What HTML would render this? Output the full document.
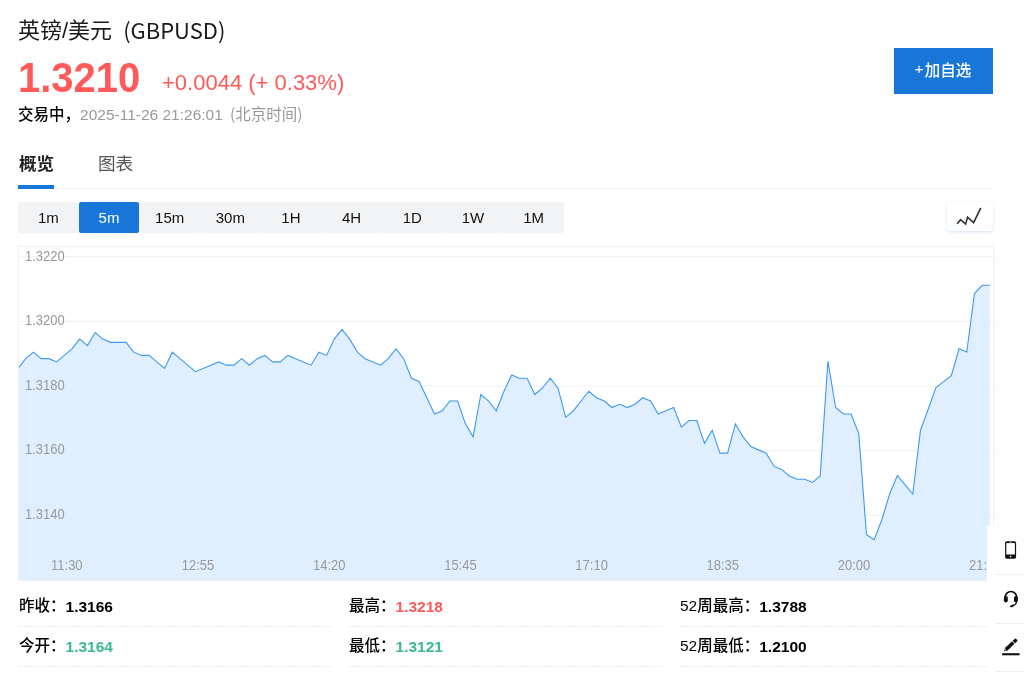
<!DOCTYPE html>
<html lang="zh-CN">
<head>
<meta charset="utf-8">
<title>英镑/美元 (GBPUSD)</title>
<style>
*{box-sizing:border-box;margin:0;padding:0}
html,body{width:1024px;height:674px;overflow:hidden;background:#fff}
body{position:relative;font-family:"Liberation Sans","Noto Sans CJK SC",sans-serif;color:#222;-webkit-font-smoothing:antialiased}
.abs{position:absolute;white-space:nowrap}
.cjk{font-family:"Noto Sans CJK SC",sans-serif}
#title{left:18px;top:12px;font-size:22px;line-height:32px;color:#1a1a1a}
#title .sym{font-family:"Noto Sans CJK SC",sans-serif;margin-left:11px;position:relative;top:1px}
#price{left:18px;top:54px;font-size:40px;line-height:46px;transform:scaleY(1.06);transform-origin:0 50%;font-weight:bold;color:#ff5959}
#chg{left:162px;top:70px;font-size:22px;line-height:26px;color:#ff5959}
#status{left:18px;top:102px;font-size:15.5px;line-height:22px;color:#000;font-weight:500}
#status .t{color:#999;font-weight:400}#status .t .cjk{margin-left:3px}
#addbtn{left:893.6px;top:48px;width:99.6px;height:46.2px;background:#1976d9;color:#fff;font-weight:500;font-size:15.5px;line-height:46px;text-align:center}
#tab1{left:19px;top:150px;font-size:17.6px;line-height:28px;font-weight:bold;color:#222}
#tab2{left:98px;top:150px;font-size:17.6px;line-height:28px;color:#555}
#tabline{left:18px;top:188px;width:975px;height:1px;background:#f4f4f4}
#tabul{left:18px;top:185.2px;width:36px;height:3.8px;background:#1976d9}
#tf{left:18px;top:202px;height:31px;display:flex}
#tf div{width:60.67px;height:31px;line-height:31px;text-align:center;font-size:15px;color:#111;background:#f2f3f5;border-radius:2px}
#tf div.on{background:#1976d9;color:#fff}
#ctype{left:947px;top:202px;width:46px;height:29px;background:#fff;border-radius:3px;box-shadow:0 1px 3px rgba(25,118,217,.2)}
#chart{left:18px;top:246px;width:975px;height:334px}
.stat{font-size:15.5px;line-height:22px;color:#000;font-weight:500}
.stat b{font-weight:bold;position:relative;top:1px}
.up{color:#ff5959}.dn{color:#3ab891}
.dash{height:1px;background:repeating-linear-gradient(90deg,#e9e9e9 0,#e9e9e9 2px,transparent 2px,transparent 3px)}
#float{left:987px;top:525.5px;width:37px;height:149px;background:#fff}
#float .sep{position:absolute;left:8px;right:0;height:1px;background:#efefef}
</style>
</head>
<body>
<div class="abs" id="title">英镑/美元<span class="sym">(GBPUSD)</span></div>
<div class="abs" id="price">1.3210</div>
<div class="abs" id="chg">+0.0044 (+ 0.33%)</div>
<div class="abs" id="status">交易中，<span class="t">2025-11-26 21:26:01 <span class="cjk">(北京时间)</span></span></div>
<div class="abs" id="addbtn"><span style="position:relative;top:-2px;left:-1px">+</span>加自选</div>
<div class="abs" id="tab1">概览</div>
<div class="abs" id="tab2">图表</div>
<div class="abs" id="tabline"></div>
<div class="abs" id="tabul"></div>
<div class="abs" id="tf"><div>1m</div><div class="on">5m</div><div>15m</div><div>30m</div><div>1H</div><div>4H</div><div>1D</div><div>1W</div><div>1M</div></div>
<div class="abs" id="ctype"><svg width="46" height="29" viewBox="0 0 46 29"><path d="M10.5 21.3 L13.6 17.7 L18.6 22.1 L20.6 15.2 L26.6 20.6 L33.6 6.4" fill="none" stroke="#333" stroke-width="1.6" stroke-linecap="round" stroke-linejoin="miter"/></svg></div>
<!--CHART_START-->
<svg class="abs" id="chartsvg" style="left:0;top:0" width="1024" height="674" viewBox="0 0 1024 674">
<rect x="18.5" y="246.5" width="975" height="334" fill="#fff" stroke="#eff0f3" stroke-width="1"/>
<line x1="19" x2="993" y1="256.7" y2="256.7" stroke="#efefef" stroke-width="1"/>
<line x1="19" x2="993" y1="321.37" y2="321.37" stroke="#efefef" stroke-width="1"/>
<line x1="19" x2="993" y1="386.04" y2="386.04" stroke="#efefef" stroke-width="1"/>
<line x1="19" x2="993" y1="450.7" y2="450.7" stroke="#efefef" stroke-width="1"/>
<line x1="19" x2="993" y1="515.4" y2="515.4" stroke="#efefef" stroke-width="1"/>
<path d="M18 368.43 L25.71 358.66 L33.43 352.14 L41.14 358.66 L48.85 358.66 L56.57 361.92 L64.28 355.4 L71.99 348.88 L79.71 339.11 L87.42 345.63 L95.13 332.59 L102.85 339.11 L110.56 342.37 L118.28 342.37 L125.99 342.37 L133.7 352.14 L141.42 355.4 L149.13 355.4 L156.84 361.92 L164.56 368.43 L172.27 352.14 L179.98 358.66 L187.7 365.17 L195.41 371.69 L203.12 368.43 L210.84 365.17 L218.55 361.92 L226.26 365.17 L233.98 365.17 L241.69 358.66 L249.4 365.17 L257.12 358.66 L264.83 355.4 L272.55 361.92 L280.26 361.92 L287.97 355.4 L295.69 358.66 L303.4 361.92 L311.11 365.17 L318.83 352.14 L326.54 355.4 L334.25 339.11 L341.97 329.34 L349.68 339.11 L357.39 352.14 L365.11 358.66 L372.82 361.92 L380.53 365.17 L388.25 358.66 L395.96 348.88 L403.67 358.66 L411.39 378.21 L419.1 381.46 L426.82 397.75 L434.53 414.04 L442.24 410.79 L449.96 401.01 L457.67 401.01 L465.38 423.82 L473.1 436.85 L480.81 394.5 L488.52 401.01 L496.24 410.79 L503.95 391.24 L511.66 374.95 L519.38 378.21 L527.09 378.21 L534.8 394.5 L542.52 387.98 L550.23 378.21 L557.94 387.98 L565.66 417.3 L573.37 410.79 L581.08 401.01 L588.8 391.24 L596.51 397.75 L604.23 401.01 L611.94 407.53 L619.65 404.27 L627.37 407.53 L635.08 404.27 L642.79 397.75 L650.51 401.01 L658.22 414.04 L665.93 410.79 L673.65 407.53 L681.36 427.08 L689.07 420.56 L696.79 420.56 L704.5 443.37 L712.21 430.33 L719.93 453.14 L727.64 453.14 L735.35 423.82 L743.07 436.85 L750.78 446.62 L758.5 449.88 L766.21 453.14 L773.92 466.17 L781.64 469.43 L789.35 475.95 L797.06 479.2 L804.78 479.2 L812.49 482.46 L820.2 475.95 L827.92 361.2 L835.63 407.53 L843.34 414.04 L851.06 414.04 L858.77 433.59 L866.48 534.8 L874.2 539.7 L881.91 519.5 L889.62 494 L897.34 475.5 L905.05 484.8 L912.77 494 L920.48 430.2 L928.19 409.2 L935.91 387.65 L943.62 381.65 L951.33 375.65 L959.05 348.75 L966.76 352 L974.47 293.5 L982.19 285.3 L989.9 285.3 L989.9 580 L18 580 Z" fill="#e0efff"/>
<path d="M18 368.43 L25.71 358.66 L33.43 352.14 L41.14 358.66 L48.85 358.66 L56.57 361.92 L64.28 355.4 L71.99 348.88 L79.71 339.11 L87.42 345.63 L95.13 332.59 L102.85 339.11 L110.56 342.37 L118.28 342.37 L125.99 342.37 L133.7 352.14 L141.42 355.4 L149.13 355.4 L156.84 361.92 L164.56 368.43 L172.27 352.14 L179.98 358.66 L187.7 365.17 L195.41 371.69 L203.12 368.43 L210.84 365.17 L218.55 361.92 L226.26 365.17 L233.98 365.17 L241.69 358.66 L249.4 365.17 L257.12 358.66 L264.83 355.4 L272.55 361.92 L280.26 361.92 L287.97 355.4 L295.69 358.66 L303.4 361.92 L311.11 365.17 L318.83 352.14 L326.54 355.4 L334.25 339.11 L341.97 329.34 L349.68 339.11 L357.39 352.14 L365.11 358.66 L372.82 361.92 L380.53 365.17 L388.25 358.66 L395.96 348.88 L403.67 358.66 L411.39 378.21 L419.1 381.46 L426.82 397.75 L434.53 414.04 L442.24 410.79 L449.96 401.01 L457.67 401.01 L465.38 423.82 L473.1 436.85 L480.81 394.5 L488.52 401.01 L496.24 410.79 L503.95 391.24 L511.66 374.95 L519.38 378.21 L527.09 378.21 L534.8 394.5 L542.52 387.98 L550.23 378.21 L557.94 387.98 L565.66 417.3 L573.37 410.79 L581.08 401.01 L588.8 391.24 L596.51 397.75 L604.23 401.01 L611.94 407.53 L619.65 404.27 L627.37 407.53 L635.08 404.27 L642.79 397.75 L650.51 401.01 L658.22 414.04 L665.93 410.79 L673.65 407.53 L681.36 427.08 L689.07 420.56 L696.79 420.56 L704.5 443.37 L712.21 430.33 L719.93 453.14 L727.64 453.14 L735.35 423.82 L743.07 436.85 L750.78 446.62 L758.5 449.88 L766.21 453.14 L773.92 466.17 L781.64 469.43 L789.35 475.95 L797.06 479.2 L804.78 479.2 L812.49 482.46 L820.2 475.95 L827.92 361.2 L835.63 407.53 L843.34 414.04 L851.06 414.04 L858.77 433.59 L866.48 534.8 L874.2 539.7 L881.91 519.5 L889.62 494 L897.34 475.5 L905.05 484.8 L912.77 494 L920.48 430.2 L928.19 409.2 L935.91 387.65 L943.62 381.65 L951.33 375.65 L959.05 348.75 L966.76 352 L974.47 293.5 L982.19 285.3 L989.9 285.3" fill="none" stroke="#3d98f2" stroke-width="1.1" stroke-linejoin="miter"/>
<line x1="18.5" x2="18.5" y1="247" y2="580" stroke="#eef0f4" stroke-width="1"/>
<g font-family="Liberation Sans, sans-serif" font-size="13" fill="#999">
<text transform="translate(25 260.6) scale(1 1.09)">1.3220</text>
<text transform="translate(25 325.2) scale(1 1.09)">1.3200</text>
<text transform="translate(25 389.8) scale(1 1.09)">1.3180</text>
<text transform="translate(25 454.4) scale(1 1.09)">1.3160</text>
<text transform="translate(25 519) scale(1 1.09)">1.3140</text>
<text transform="translate(66.8 569.9) scale(1 1.07)" text-anchor="middle">11:30</text>
<text transform="translate(198 569.9) scale(1 1.07)" text-anchor="middle">12:55</text>
<text transform="translate(329.2 569.9) scale(1 1.07)" text-anchor="middle">14:20</text>
<text transform="translate(460.4 569.9) scale(1 1.07)" text-anchor="middle">15:45</text>
<text transform="translate(591.6 569.9) scale(1 1.07)" text-anchor="middle">17:10</text>
<text transform="translate(722.8 569.9) scale(1 1.07)" text-anchor="middle">18:35</text>
<text transform="translate(854 569.9) scale(1 1.07)" text-anchor="middle">20:00</text>
<text transform="translate(985.2 569.9) scale(1 1.07)" text-anchor="middle">21:25</text>
</g></svg>
<!--CHART_END-->
<div class="abs stat" style="left:19px;top:595px">昨收：<b>1.3166</b></div>
<div class="abs stat" style="left:349px;top:595px">最高：<b class="up">1.3218</b></div>
<div class="abs stat" style="left:680px;top:595px">52周最高：<b>1.3788</b></div>
<div class="abs stat" style="left:19px;top:635px">今开：<b class="dn">1.3164</b></div>
<div class="abs stat" style="left:349px;top:635px">最低：<b class="dn">1.3121</b></div>
<div class="abs stat" style="left:680px;top:635px">52周最低：<b>1.2100</b></div>
<div class="abs dash" style="left:18px;top:626px;width:313px"></div>
<div class="abs dash" style="left:349px;top:626px;width:313px"></div>
<div class="abs dash" style="left:680px;top:626px;width:313px"></div>
<div class="abs dash" style="left:18px;top:666px;width:313px"></div>
<div class="abs dash" style="left:349px;top:666px;width:313px"></div>
<div class="abs dash" style="left:680px;top:666px;width:313px"></div>
<div class="abs" id="float">
<div class="sep" style="top:48.5px"></div><div class="sep" style="top:97.5px"></div><div class="sep" style="top:145.5px"></div>
<svg style="position:absolute;left:0;top:0" width="37" height="149" viewBox="987 525.5 37 149">
<g id="ic-phone" transform="translate(1005.1 540.7)">
<rect x="0" y="0" width="11" height="17.5" rx="1.7" fill="#111"/>
<rect x="1.2" y="1.9" width="8.6" height="11.4" fill="#fff"/>
<circle cx="5.5" cy="15.4" r="0.8" fill="#fff"/>
<rect x="4" y="0.7" width="3" height="0.6" fill="#ddd"/>
</g>
<g id="ic-headset" transform="translate(1003.6 590.1)">
<path d="M1.35 7.4 A5.95 6.5 0 0 1 13.25 7.4" fill="none" stroke="#111" stroke-width="1.7"/>
<rect x="0.3" y="5.4" width="3.9" height="6.4" rx="1.8" fill="#111"/>
<rect x="10.4" y="5.4" width="3.9" height="6.4" rx="1.8" fill="#111"/>
<path d="M13 11.2 C12.8 13.6 11 14.6 8.6 15.2" fill="none" stroke="#111" stroke-width="1.35"/>
<ellipse cx="8.3" cy="15.45" rx="1.95" ry="1.2" transform="rotate(-18 8.2 15.5)" fill="#111"/>
</g>
<g id="ic-edit" transform="translate(1002.1 638)">
<rect x="0" y="14.7" width="17.5" height="2.1" fill="#111"/>
<g transform="translate(2.1 12.7) rotate(-43.6)">
<path d="M0 0 L3 -1.75 L12.6 -1.75 L12.6 1.75 L3 1.75 Z" fill="#111"/>
<path d="M13.4 -1.75 L16 -1.75 Q17.2 -1.75 17.2 -0.6 L17.2 0.6 Q17.2 1.75 16 1.75 L13.4 1.75 Z" fill="#111"/>
<path d="M1.6 -0.9 L2.9 -0.2 L1.6 0.6 Z" fill="#fff"/>
</g>
</g>
</svg>
</div>
</body>
</html>
